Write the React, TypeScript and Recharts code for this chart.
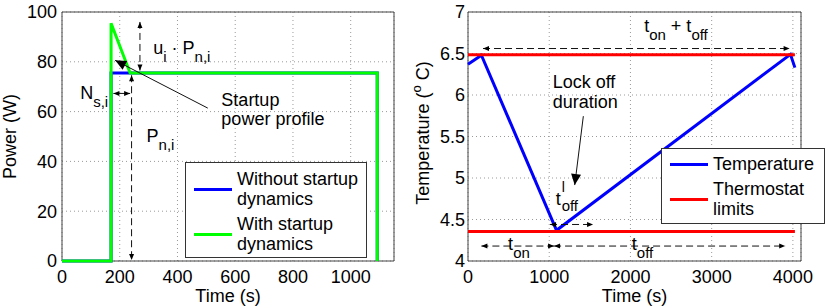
import React from 'react'
import { CartesianGrid, Line, LineChart, ReferenceArea, ReferenceDot, ReferenceLine, XAxis, YAxis } from 'recharts'

const FONT = '"Liberation Sans", Arial, Helvetica, sans-serif'

// left panel: power of one appliance
const powerTicksX = [0, 200, 400, 600, 800, 1000]
const powerTicksY = [0, 20, 40, 60, 80, 100]
const withoutStartup = [
  { t: 0, p: 0 },
  { t: 170, p: 0 },
  { t: 170, p: 75.5 },
  { t: 1092, p: 75.5 },
  { t: 1092, p: 0 },
]
const withStartup = [
  { t: 0, p: 0 },
  { t: 170, p: 0 },
  { t: 170, p: 95.5 },
  { t: 236, p: 75.5 },
  { t: 1092, p: 75.5 },
  { t: 1092, p: 0 },
]

// right panel: fridge temperature
const tempTicksX = [0, 1000, 2000, 3000, 4000]
const tempTicksY = [4, 4.5, 5, 5.5, 6, 6.5, 7]
const temperature = [
  { t: 0, v: 6.37 },
  { t: 165, v: 6.48 },
  { t: 1090, v: 4.37 },
  { t: 3970, v: 6.49 },
  { t: 4025, v: 6.33 },
]
const upperLimit = [
  { t: 0, v: 6.485 },
  { t: 4025, v: 6.485 },
]
const lowerLimit = [
  { t: 0, v: 4.355 },
  { t: 4025, v: 4.355 },
]

type Part = { s: string; sub?: boolean; sup?: boolean }

function RichText({ x, y, parts, size = 18, small = 15 }: { x: number; y: number; parts: Part[]; size?: number; small?: number }) {
  let shift = 0
  return (
    <text x={x} y={y} fontSize={size} fontFamily={FONT} fill="#000" style={{ whiteSpace: 'pre' }}>
      {parts.map((p, i) => {
        const target = p.sub ? 8 : p.sup ? -8 : 0
        const dy = target - shift
        shift = target
        return (
          <tspan key={i} dy={dy} fontSize={p.sub || p.sup ? small : size}>
            {p.s}
          </tspan>
        )
      })}
    </text>
  )
}

const at = (render: (cx: number, cy: number) => React.ReactElement) => (props: any) => render(props.cx, props.cy)

function head(x: number, y: number, fx: number, fy: number, len: number, half: number) {
  const dx = x - fx
  const dy = y - fy
  const d = Math.hypot(dx, dy) || 1
  const ux = dx / d
  const uy = dy / d
  const bx = x - ux * len
  const by = y - uy * len
  return `${x},${y} ${bx - uy * half},${by + ux * half} ${bx + uy * half},${by - ux * half}`
}

const arrow =
  (opts: { dash?: string; both?: boolean; len?: number; half?: number }) =>
  (props: any) => {
    const { x1, y1, x2, y2 } = props
    const len = opts.len ?? 6
    const half = opts.half ?? 2.5
    return (
      <g>
        <line x1={x1} y1={y1} x2={x2} y2={y2} stroke="#111" strokeWidth={1} strokeDasharray={opts.dash} />
        {opts.both && <polygon points={head(x1, y1, x2, y2, len, half)} fill="#000" />}
        <polygon points={head(x2, y2, x1, y1, len, half)} fill="#000" />
      </g>
    )
  }

const tick = { fontSize: 18, fill: '#000', fontFamily: FONT }

const xLabel = (props: any) => {
  const vb = props.viewBox
  return (
    <text x={vb.x + vb.width / 2} y={vb.y + 40.5} textAnchor="middle" fontSize={18} fontFamily={FONT} fill="#000">
      Time (s)
    </text>
  )
}

const powerYLabel = (props: any) => {
  const vb = props.viewBox
  const cx = vb.x + 15.5
  const cy = vb.y + vb.height / 2
  return (
    <text x={cx} y={cy} transform={`rotate(-90 ${cx} ${cy})`} textAnchor="middle" fontSize={18} fontFamily={FONT} fill="#000">
      Power (W)
    </text>
  )
}

const tempYLabel = (props: any) => {
  const vb = props.viewBox
  const cx = vb.x + 24
  const cy = 133
  return (
    <text x={cx} y={cy} transform={`rotate(-90 ${cx} ${cy})`} textAnchor="middle" fontSize={18} fontFamily={FONT} fill="#000" style={{ whiteSpace: 'pre' }}>
      <tspan>Temperature (</tspan>
      <tspan dy={-8} fontSize={13}>o</tspan>
      <tspan dy={8}> C)</tspan>
    </text>
  )
}

function PowerChart() {
  return (
    <LineChart width={415} height={308} margin={{ top: 12, right: 21, left: 0, bottom: 0 }}>
      <CartesianGrid stroke="#9a9a9a" strokeDasharray="1 3" />
      <XAxis
        dataKey="t"
        type="number"
        domain={[0, 1150]}
        ticks={powerTicksX}
        height={47}
        tick={tick}
        tickLine={false}
        axisLine={false}
        tickSize={6}
        tickMargin={3}
        label={{ content: xLabel }}
      />
      <YAxis
        type="number"
        domain={[0, 100]}
        ticks={powerTicksY}
        width={62}
        tick={tick}
        tickLine={false}
        axisLine={false}
        tickSize={3}
        tickMargin={2}
        label={{ content: powerYLabel }}
      />
      <ReferenceArea x1={0} x2={1150} y1={0} y2={100} fill="none" stroke="#444" strokeWidth={1} />
      <Line data={withoutStartup} dataKey="p" type="linear" stroke="#0000ff" strokeWidth={3} dot={false} isAnimationActive={false} />
      <Line data={withStartup} dataKey="p" type="linear" stroke="#00ff00" strokeWidth={3} dot={false} isAnimationActive={false} />

      <ReferenceLine segment={[{ x: 270, y: 96 }, { x: 270, y: 76.5 }]} ifOverflow="visible" shape={arrow({ dash: '7 4', both: true })} />
      <ReferenceLine segment={[{ x: 241, y: 74.6 }, { x: 241, y: 0.4 }]} ifOverflow="visible" shape={arrow({ dash: '7 4', both: true })} />
      <ReferenceLine segment={[{ x: 178, y: 67.3 }, { x: 236, y: 67.3 }]} ifOverflow="visible" shape={arrow({ both: true })} />
      <ReferenceLine segment={[{ x: 505, y: 61.4 }, { x: 184, y: 80.6 }]} ifOverflow="visible" shape={arrow({ len: 11, half: 5 })} />

      <ReferenceDot
        x={316}
        y={83.3}
        r={0}
        ifOverflow="visible"
        shape={at((cx, cy) => (
          <RichText x={cx} y={cy} parts={[{ s: 'u' }, { s: 'i', sub: true }, { s: ' · P' }, { s: 'n,i', sub: true }]} />
        ))}
      />
      <ReferenceDot
        x={63}
        y={65}
        r={0}
        ifOverflow="visible"
        shape={at((cx, cy) => <RichText x={cx} y={cy} parts={[{ s: 'N' }, { s: 's,i', sub: true }]} />)}
      />
      <ReferenceDot
        x={293}
        y={47.9}
        r={0}
        ifOverflow="visible"
        shape={at((cx, cy) => <RichText x={cx} y={cy} parts={[{ s: 'P' }, { s: 'n,i', sub: true }]} />)}
      />
      <ReferenceDot
        x={552}
        y={62.2}
        r={0}
        ifOverflow="visible"
        shape={at((cx, cy) => (
          <text x={cx} y={cy} fontSize={18} fontFamily={FONT} fill="#000">
            <tspan x={cx}>Startup</tspan>
            <tspan x={cx} dy={19}>power profile</tspan>
          </text>
        ))}
      />
    </LineChart>
  )
}

function TempChart() {
  return (
    <LineChart width={425} height={308} margin={{ top: 12, right: 29, left: 0, bottom: 0 }}>
      <CartesianGrid stroke="#9a9a9a" strokeDasharray="1 3" />
      <XAxis
        dataKey="t"
        type="number"
        domain={[0, 4100]}
        ticks={tempTicksX}
        height={47}
        tick={tick}
        tickLine={false}
        axisLine={false}
        tickSize={6}
        tickMargin={3}
        label={{ content: xLabel }}
      />
      <YAxis
        type="number"
        domain={[4, 7]}
        ticks={tempTicksY}
        width={63}
        tick={tick}
        tickLine={false}
        axisLine={false}
        tickSize={2}
        tickMargin={1}
        label={{ content: tempYLabel }}
      />
      <ReferenceArea x1={0} x2={4100} y1={4} y2={7} fill="none" stroke="#444" strokeWidth={1} />
      <Line data={temperature} dataKey="v" type="linear" stroke="#0000ff" strokeWidth={3} dot={false} isAnimationActive={false} />
      <Line data={upperLimit} dataKey="v" type="linear" stroke="#ff0000" strokeWidth={3} dot={false} isAnimationActive={false} />
      <Line data={lowerLimit} dataKey="v" type="linear" stroke="#ff0000" strokeWidth={3} dot={false} isAnimationActive={false} />

      <ReferenceLine segment={[{ x: 185, y: 6.56 }, { x: 3960, y: 6.56 }]} ifOverflow="visible" shape={arrow({ dash: '7 4', both: true })} />
      <ReferenceLine segment={[{ x: 1420, y: 5.745 }, { x: 1314, y: 4.915 }]} ifOverflow="visible" shape={arrow({ len: 11, half: 5 })} />
      <ReferenceLine segment={[{ x: 1010, y: 4.44 }, { x: 1540, y: 4.44 }]} ifOverflow="visible" shape={arrow({ dash: '7 4', both: true })} />
      <ReferenceLine segment={[{ x: 165, y: 4.18 }, { x: 1060, y: 4.18 }]} ifOverflow="visible" shape={arrow({ dash: '7 4', both: true })} />
      <ReferenceLine segment={[{ x: 1060, y: 4.18 }, { x: 3905, y: 4.18 }]} ifOverflow="visible" shape={arrow({ dash: '7 4', both: true })} />

      <ReferenceDot
        x={2169}
        y={6.76}
        r={0}
        ifOverflow="visible"
        shape={at((cx, cy) => (
          <RichText x={cx} y={cy} parts={[{ s: 't' }, { s: 'on', sub: true }, { s: ' + t' }, { s: 'off', sub: true }]} />
        ))}
      />
      <ReferenceDot
        x={1042}
        y={6.08}
        r={0}
        ifOverflow="visible"
        shape={at((cx, cy) => (
          <text x={cx} y={cy} fontSize={18} fontFamily={FONT} fill="#000">
            <tspan x={cx}>Lock off</tspan>
            <tspan x={cx} dy={20}>duration</tspan>
          </text>
        ))}
      />
      <ReferenceDot
        x={1079}
        y={4.674}
        r={0}
        ifOverflow="visible"
        shape={at((cx, cy) => (
          <g fontFamily={FONT} fill="#000">
            <text x={cx} y={cy} fontSize={18}>t</text>
            <text x={cx + 6} y={cy - 13} fontSize={14}>l</text>
            <text x={cx + 6} y={cy + 6} fontSize={15}>off</text>
          </g>
        ))}
      />
      <ReferenceDot
        x={494}
        y={4.13}
        r={0}
        ifOverflow="visible"
        shape={at((cx, cy) => <RichText x={cx} y={cy} parts={[{ s: 't' }, { s: 'on', sub: true }]} />)}
      />
      <ReferenceDot
        x={2017}
        y={4.13}
        r={0}
        ifOverflow="visible"
        shape={at((cx, cy) => <RichText x={cx} y={cy} parts={[{ s: 't' }, { s: 'off', sub: true }]} />)}
      />
    </LineChart>
  )
}

type LegendItem = { color: string; lines: string[] }

function LegendBox({ x, y, w, h, sample, textX, items, firstBaseline, gap, lineH }: {
  x: number
  y: number
  w: number
  h: number
  sample: [number, number]
  textX: number
  items: LegendItem[]
  firstBaseline: number
  gap: number
  lineH: number
}) {
  let base = firstBaseline
  return (
    <g fontFamily={FONT} fontSize={18} fill="#000">
      <rect x={x} y={y} width={w} height={h} fill="#fff" stroke="#333" strokeWidth={1} />
      {items.map((it, i) => {
        const b0 = base
        const mid = b0 - 5 + ((it.lines.length - 1) * lineH) / 2
        base += it.lines.length * lineH + gap
        return (
          <g key={i}>
            <line x1={sample[0]} x2={sample[1]} y1={mid} y2={mid} stroke={it.color} strokeWidth={3} />
            {it.lines.map((s, j) => (
              <text key={j} x={textX} y={b0 + j * lineH}>
                {s}
              </text>
            ))}
          </g>
        )
      })}
    </g>
  )
}

export default function App() {
  return (
    <div style={{ position: 'absolute', left: 0, top: 0, width: 830, height: 308, background: '#fff', overflow: 'hidden' }}>
      <div style={{ position: 'absolute', left: 0, top: 0 }}>
        <PowerChart />
      </div>
      <div style={{ position: 'absolute', left: 405, top: 0 }}>
        <TempChart />
      </div>
      <svg width={830} height={308} style={{ position: 'absolute', left: 0, top: 0, pointerEvents: 'none' }}>
        <LegendBox
          x={185.5}
          y={162.5}
          w={181}
          h={95}
          sample={[194, 232]}
          textX={237}
          firstBaseline={184.6}
          gap={5}
          lineH={20}
          items={[
            { color: '#0000ff', lines: ['Without startup', 'dynamics'] },
            { color: '#00ff00', lines: ['With startup', 'dynamics'] },
          ]}
        />
        <LegendBox
          x={661.5}
          y={148.5}
          w={163}
          h={75}
          sample={[670, 708]}
          textX={713}
          firstBaseline={169.6}
          gap={5}
          lineH={20}
          items={[
            { color: '#0000ff', lines: ['Temperature'] },
            { color: '#ff0000', lines: ['Thermostat', 'limits'] },
          ]}
        />
      </svg>
    </div>
  )
}
